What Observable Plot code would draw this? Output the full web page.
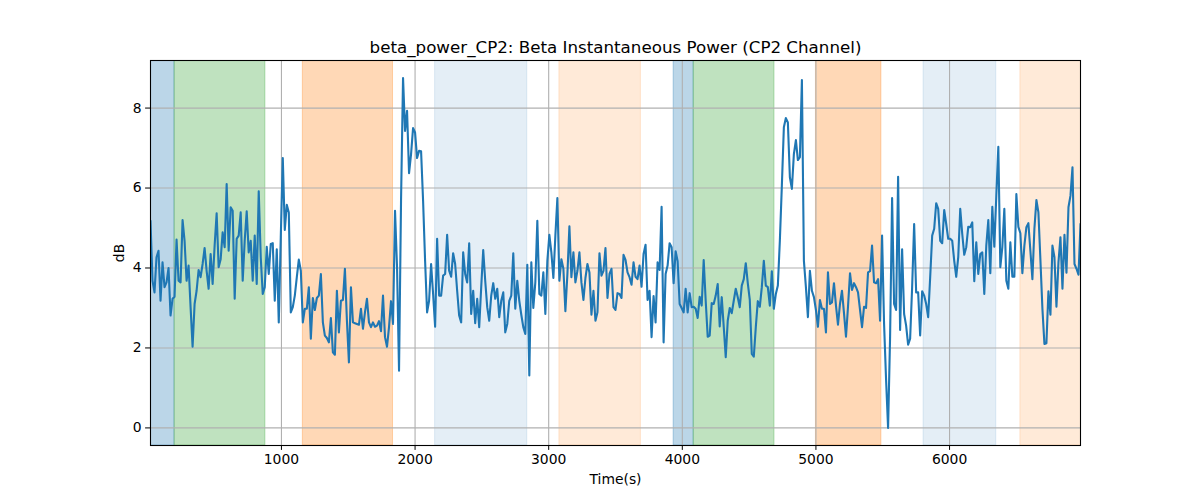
<!DOCTYPE html>
<html><head><meta charset="utf-8">
<script src="https://cdn.jsdelivr.net/npm/d3@7"></script>
<script src="https://cdn.jsdelivr.net/npm/@observablehq/plot@0.6"></script>
<style>body{margin:0;background:#fff} #chart{width:1200px;height:500px}</style>
</head><body><div id="chart"></div>
<script>
const titleText = "beta_power_CP2: Beta Instantaneous Power (CP2 Channel)";
const xLabel = "Time(s)";
const yLabel = "dB";
const xTicks = [1000, 2000, 3000, 4000, 5000, 6000];
const yTicks = [0, 2, 4, 6, 8];

const timeStart = 20;   // s, first sample
const timeStep = 15;    // s, sampling interval

const seg1 = [5.18,3.68,3.39,4.27,4.43,3.18,4.14,3.52,3.64,4.00,2.81,3.23,3.28,4.71,3.68,3.64,5.20,4.68,3.68,4.06,3.02,2.03,3.10,3.43,3.95,3.77,4.10,4.50,3.93,3.48,4.35,3.60,4.56,5.37,4.02,4.22,4.89,4.52,6.10,4.43,5.52,5.43,3.23,4.73,4.81,5.39,3.68,4.68,5.42,4.39,4.68,3.68,4.81,3.60,5.92,4.27,3.35,3.52,4.53,3.85,4.60,4.62,3.18,4.47,2.64,4.77,6.75,4.95,5.58,5.39,2.89,3.02,3.31,3.77,4.21,3.93,2.64];
const seg2 = [2.98,2.98,3.52,2.23,3.25,2.95,3.25,3.31,3.85,2.64,2.31,2.25,2.14,2.75,1.89,1.83,3.43,2.39,3.18,3.20,3.98,2.68,1.64,3.52,2.64,2.62,2.60,2.58,2.98,2.48,2.89,3.23,2.64,2.52,2.64,2.53,2.56,2.67,2.42,3.31,2.27,2.03,2.52,3.17,2.60,5.43,4.02,1.43,5.68,8.75,7.43,7.93,6.37,6.85,7.50,7.39,6.75,6.93,6.92,5.68,4.18,2.89,3.18,4.10,3.35,2.53,4.73,3.31,3.31,3.81,3.85,4.83,3.93,3.78,4.37,4.10,3.43,2.81];
const seg3 = [2.64,4.39,3.85,3.64,4.62,2.85,3.43,2.62,3.23,2.52,3.52,4.45,3.68,3.02,2.68,3.31,3.62,3.23,3.48,2.77,3.18,3.39,2.39,2.60,3.18,3.31,4.37,2.98,3.68,3.18,2.83,2.52,2.35,4.08,1.31,4.14,3.00,3.64,5.18,3.35,3.31,3.89,2.85,4.18,4.83,4.39,3.75,4.81,5.75,3.68,4.22,3.98,2.92,3.85,5.04,3.77,4.39,3.64,3.93,4.39,3.64,3.20,3.75,4.10,3.89,2.83,3.43,2.68,2.89,4.37,3.81,3.93,4.50,3.25,3.85,3.98,3.02];
const seg4 = [2.95,3.37,3.35,3.25,4.33,4.20,3.89,3.77,3.58,4.14,3.78,3.72,4.06,3.53,4.35,4.58,3.20,3.43,2.27,3.30,2.64,4.14,3.95,5.53,2.14,3.85,4.06,4.62,4.52,3.62,4.42,4.17,3.10,3.00,2.89,3.48,2.89,3.37,3.02,3.03,2.98,2.75,3.28,3.06,4.20,3.18,2.28,2.31,3.12,3.10,3.31,3.60,2.54,3.27,2.53,1.77,2.68,3.00,2.87,3.18,3.48,3.27,3.02,3.56,3.72,4.12,3.62,3.20,1.85,1.78,2.52,3.17,3.03,3.52,4.18,3.56,3.52,3.06];
const seg5 = [3.92,2.98,3.35,3.56,4.68,6.06,7.52,7.75,7.64,6.27,5.98,6.85,7.20,6.70,6.77,8.70,4.18,3.52,2.77,3.93,3.43,3.27,2.95,2.53,3.20,2.98,2.98,2.39,3.89,3.10,3.14,3.62,3.06,2.58,3.10,3.43,2.87,2.28,3.03,3.87,3.45,3.62,3.52,3.39,2.95,2.52,3.03,3.00,3.89,3.92,4.56,3.64,3.62,3.72,2.68,4.81,2.60,1.20,0.00,2.28,5.75,3.10,2.95,6.28,2.45,4.47,2.85,2.56,2.08,2.23,3.52,5.10,3.39,3.39,2.31,3.42,3.31];
const seg6 = [3.10,2.77,3.77,4.81,4.98,5.62,5.48,4.68,4.62,5.45,5.10,4.73,4.73,4.68,4.18,3.78,4.27,5.48,4.85,4.33,4.52,5.03,5.02,5.14,3.67,4.64,3.85,4.35,4.39,3.35,4.56,5.20,3.87,5.53,4.53,5.81,7.03,4.02,4.52,5.48,3.68,3.48,4.64,3.78,3.78,5.85,5.03,4.87,3.87,4.56,5.02,5.12,4.43,3.72,4.98,5.70,5.39,4.20,2.98,2.10,2.12,3.42,2.83,4.56,4.27,3.03,4.14,4.77,3.48,4.83,3.88,5.52,5.81,6.52,4.10,3.98,3.83,5.10];

const spanStart = [0, 200, 1160, 2150, 3080, 3935, 4085, 5000, 5805, 6530];
const spanEnd   = [200, 880, 1835, 2840, 3690, 4085, 4690, 5490, 6350, 7000];
const spanColor = ["#1f77b4","#2ca02c","#ff7f0e","#1f77b4","#ff7f0e","#1f77b4","#2ca02c","#ff7f0e","#1f77b4","#ff7f0e"];
const spanAlpha = [0.3, 0.3, 0.3, 0.12, 0.16, 0.3, 0.3, 0.3, 0.12, 0.16];

const power = [...seg1, ...seg2, ...seg3, ...seg4, ...seg5, ...seg6];
const series = power.map((v, i) => ({t: timeStart + i * timeStep, v}));
const spans = spanStart.map((s, i) => ({start: s, end: spanEnd[i], color: spanColor[i], alpha: spanAlpha[i]}));
const tEnd = timeStart + (power.length - 1) * timeStep;

const chart = Plot.plot({
  width: 1200, height: 500,
  marginLeft: 150, marginRight: 120, marginTop: 60, marginBottom: 55,
  style: {fontFamily: "DejaVu Sans, sans-serif", fontSize: "13.9px", background: "white", color: "black"},
  x: {domain: [timeStart, tEnd]},
  y: {domain: [-0.44, 9.19]},
  color: {type: "identity"},
  opacity: {type: "identity"},
  marks: [
    Plot.rectX(spans, {x1: "start", x2: "end", fill: "color", fillOpacity: "alpha", stroke: "color", strokeOpacity: "alpha", clip: true}),
    Plot.gridX(xTicks, {stroke: "#b0b0b0", strokeOpacity: 1, strokeWidth: 1.1}),
    Plot.gridY(yTicks, {stroke: "#b0b0b0", strokeOpacity: 1, strokeWidth: 1.1}),
    Plot.lineY(series, {x: "t", y: "v", stroke: "#1f77b4", strokeWidth: 2.1, clip: true}),
    Plot.frame({stroke: "black", strokeWidth: 1.1}),
    Plot.axisX(xTicks, {tickSize: 4.9, tickPadding: 4, tickFormat: d => String(d), label: xLabel, labelAnchor: "center", labelArrow: "none", labelOffset: 38}),
    Plot.axisY(yTicks, {tickSize: 4.9, tickPadding: 4, tickFormat: d => String(d), label: yLabel, labelAnchor: "center", labelArrow: "none", labelOffset: 36}),
    Plot.text([titleText], {text: d => d, frameAnchor: "top", lineAnchor: "top", dy: -19, fontSize: 16.7})
  ]
});
document.getElementById("chart").appendChild(chart);
</script>
</body></html>
